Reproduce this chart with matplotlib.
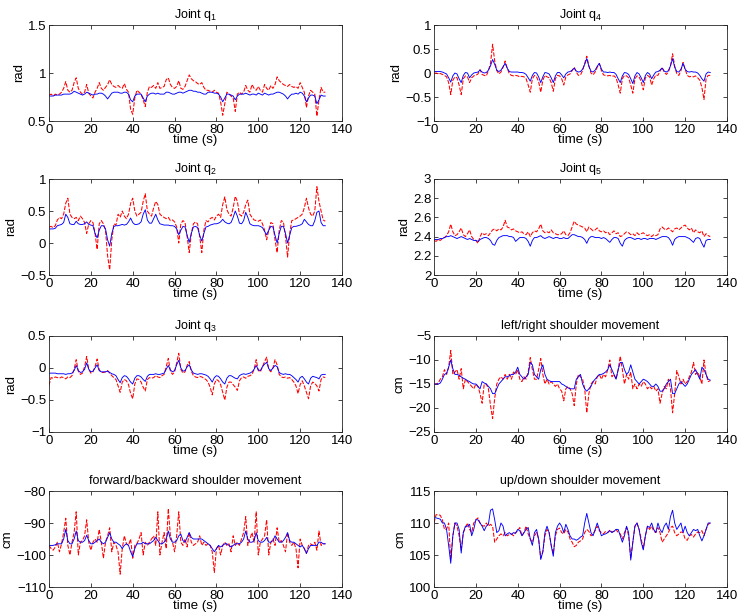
import numpy as np
import matplotlib.pyplot as plt

plt.rcParams['font.family'] = ['Liberation Sans', 'DejaVu Sans']
plt.rcParams['mathtext.fontset'] = 'custom'
plt.rcParams['mathtext.rm'] = 'Liberation Sans'
plt.rcParams['mathtext.it'] = 'Liberation Sans'

# time axis, one sample per second
t = np.arange(0, 133)

# ---- Joint q1 (rad)
q1_red = [0.77,0.78,0.76,0.78,0.77,0.78,0.80,0.84,0.91,0.82,
          0.80,0.82,0.90,0.95,0.84,0.80,0.78,0.80,0.88,0.79,
          0.76,0.74,0.80,0.84,0.90,0.84,0.82,0.85,0.88,0.93,
          0.88,0.86,0.85,0.87,0.85,0.84,0.89,0.83,0.80,0.62,
          0.57,0.74,0.82,0.80,0.78,0.72,0.65,0.80,0.86,0.85,
          0.87,0.84,0.90,0.84,0.85,0.86,0.93,0.95,0.88,0.85,
          0.84,0.86,0.92,0.84,0.83,0.86,0.92,0.98,0.94,0.92,
          0.91,0.89,0.88,0.90,0.85,0.82,0.82,0.81,0.80,0.82,
          0.80,0.79,0.70,0.56,0.68,0.80,0.78,0.76,0.74,0.60,
          0.78,0.80,0.78,0.80,0.87,0.82,0.80,0.88,0.84,0.82,
          0.86,0.82,0.80,0.88,0.84,0.82,0.87,0.84,0.88,0.96,
          0.92,0.90,0.88,0.87,0.86,0.88,0.86,0.85,0.86,0.84,
          0.90,0.85,0.80,0.64,0.76,0.82,0.80,0.78,0.55,0.72,
          0.85,0.80,0.80]
q1_blue = [0.76,0.76,0.76,0.77,0.77,0.77,0.77,0.78,0.78,0.78,
           0.78,0.79,0.81,0.80,0.79,0.78,0.77,0.78,0.80,0.79,
           0.78,0.77,0.78,0.78,0.79,0.79,0.78,0.76,0.73,0.76,
           0.79,0.80,0.80,0.80,0.79,0.79,0.80,0.80,0.78,0.72,
           0.70,0.76,0.78,0.78,0.78,0.74,0.70,0.76,0.78,0.79,
           0.79,0.78,0.79,0.78,0.78,0.78,0.80,0.80,0.79,0.78,
           0.78,0.79,0.80,0.80,0.79,0.80,0.81,0.82,0.82,0.81,
           0.81,0.80,0.80,0.79,0.78,0.78,0.80,0.80,0.80,0.79,
           0.79,0.78,0.75,0.70,0.74,0.78,0.78,0.77,0.76,0.72,
           0.76,0.78,0.78,0.78,0.79,0.78,0.77,0.78,0.78,0.77,
           0.79,0.78,0.77,0.79,0.78,0.77,0.78,0.78,0.79,0.80,
           0.80,0.79,0.78,0.76,0.73,0.76,0.78,0.78,0.79,0.78,
           0.80,0.79,0.76,0.70,0.74,0.77,0.77,0.76,0.68,0.72,
           0.77,0.76,0.76]

# ---- Joint q2 (rad)
q2_red = [0.25,0.26,0.24,0.27,0.36,0.40,0.38,0.45,0.62,0.70,
          0.45,0.40,0.38,0.40,0.35,0.42,0.38,0.32,0.15,0.30,
          0.35,0.32,0.15,-0.10,0.30,0.35,0.30,0.20,-0.20,-0.42,
          0.05,0.30,0.28,0.45,0.40,0.50,0.42,0.38,0.45,0.62,
          0.70,0.50,0.42,0.45,0.48,0.65,0.77,0.50,0.45,0.42,
          0.55,0.65,0.60,0.45,0.42,0.40,0.38,0.40,0.35,0.36,
          0.33,0.25,0.00,0.30,0.35,0.32,0.10,-0.15,0.15,0.30,
          0.33,0.30,0.10,-0.15,0.20,0.35,0.33,0.38,0.40,0.36,
          0.42,0.45,0.40,0.60,0.72,0.52,0.45,0.42,0.55,0.73,
          0.65,0.45,0.42,0.48,0.60,0.67,0.45,0.40,0.36,0.35,
          0.34,0.36,0.30,0.20,0.05,0.20,0.32,0.30,0.05,-0.15,
          0.20,0.35,0.33,0.10,-0.22,0.15,0.35,0.36,0.38,0.40,
          0.42,0.45,0.55,0.70,0.55,0.45,0.42,0.50,0.88,0.65,
          0.50,0.36,0.34]
q2_blue = [0.22,0.22,0.22,0.23,0.27,0.28,0.29,0.32,0.45,0.40,
           0.30,0.29,0.29,0.34,0.30,0.29,0.29,0.30,0.33,0.29,
           0.28,0.27,0.15,0.08,0.20,0.27,0.27,0.22,0.05,-0.05,
           0.15,0.26,0.27,0.27,0.28,0.29,0.28,0.29,0.33,0.39,
           0.32,0.29,0.29,0.30,0.33,0.45,0.52,0.36,0.31,0.31,
           0.38,0.45,0.36,0.30,0.29,0.28,0.28,0.28,0.27,0.27,
           0.26,0.22,0.13,0.20,0.26,0.25,0.12,0.01,0.15,0.25,
           0.26,0.24,0.12,0.03,0.15,0.25,0.26,0.28,0.29,0.30,
           0.30,0.31,0.33,0.37,0.33,0.31,0.30,0.32,0.40,0.50,
           0.42,0.31,0.30,0.35,0.48,0.40,0.30,0.28,0.27,0.27,
           0.27,0.26,0.24,0.18,0.13,0.20,0.26,0.25,0.12,0.00,
           0.15,0.26,0.26,0.15,0.00,0.12,0.24,0.26,0.26,0.27,
           0.28,0.30,0.37,0.33,0.29,0.27,0.27,0.35,0.48,0.50,
           0.32,0.27,0.27]

# ---- Joint q3 (rad)
q3_red = [-0.27,-0.15,-0.16,-0.14,-0.15,-0.16,-0.14,-0.15,-0.17,-0.14,
          -0.15,-0.12,-0.02,0.13,-0.05,-0.10,-0.08,0.02,0.18,-0.02,
          -0.08,-0.06,0.02,0.14,-0.03,-0.07,-0.07,-0.06,-0.04,-0.08,
          -0.12,-0.15,-0.18,-0.28,-0.38,-0.22,-0.18,-0.20,-0.26,-0.40,
          -0.48,-0.25,-0.17,-0.18,-0.22,-0.30,-0.36,-0.18,-0.15,-0.16,
          -0.15,-0.12,-0.14,-0.15,-0.12,-0.10,0.02,0.15,-0.05,-0.10,
          -0.06,0.08,0.23,-0.02,-0.08,-0.06,0.04,0.10,-0.05,-0.12,
          -0.14,-0.15,-0.13,-0.14,-0.16,-0.18,-0.22,-0.30,-0.42,-0.25,
          -0.18,-0.20,-0.26,-0.38,-0.50,-0.30,-0.22,-0.22,-0.26,-0.30,
          -0.35,-0.20,-0.15,-0.14,-0.16,-0.13,-0.12,-0.10,-0.02,0.13,
          -0.04,-0.06,0.02,0.10,0.17,-0.02,-0.06,0.00,0.13,0.05,
          -0.10,-0.14,-0.15,-0.14,-0.16,-0.15,-0.18,-0.22,-0.28,-0.40,
          -0.26,-0.20,-0.28,-0.38,-0.48,-0.28,-0.22,-0.24,-0.28,-0.36,
          -0.18,-0.14,-0.15]
q3_blue = [-0.08,-0.08,-0.08,-0.08,-0.09,-0.09,-0.09,-0.09,-0.10,-0.09,
           -0.09,-0.08,-0.04,0.04,-0.04,-0.07,-0.06,-0.02,0.08,-0.02,
           -0.06,-0.05,0.00,0.05,-0.04,-0.06,-0.06,-0.06,-0.05,-0.07,
           -0.09,-0.10,-0.12,-0.18,-0.23,-0.15,-0.12,-0.13,-0.17,-0.22,
           -0.25,-0.16,-0.12,-0.12,-0.14,-0.18,-0.21,-0.13,-0.10,-0.10,
           -0.10,-0.09,-0.10,-0.10,-0.09,-0.08,-0.02,0.04,-0.03,-0.06,
           -0.04,0.05,0.12,0.00,-0.05,-0.04,0.02,0.05,-0.03,-0.08,
           -0.09,-0.10,-0.09,-0.09,-0.10,-0.11,-0.13,-0.17,-0.22,-0.15,
           -0.12,-0.13,-0.17,-0.22,-0.25,-0.16,-0.12,-0.12,-0.14,-0.16,
           -0.17,-0.12,-0.10,-0.09,-0.10,-0.09,-0.08,-0.06,-0.02,0.04,
           -0.03,-0.04,0.02,0.06,0.09,-0.01,-0.04,0.00,0.04,0.02,
           -0.07,-0.09,-0.10,-0.09,-0.10,-0.10,-0.12,-0.15,-0.18,-0.22,
           -0.15,-0.13,-0.17,-0.22,-0.25,-0.16,-0.13,-0.14,-0.15,-0.17,
           -0.11,-0.10,-0.10]

# ---- forward/backward shoulder movement (cm)
fb_red = [-97,-98,-98.5,-97.5,-96,-99,-96.5,-93,-88.5,-97,
          -100,-96,-93,-86.5,-100,-96,-95.5,-94,-89,-96,
          -98.5,-96,-95,-96,-92,-96,-101,-96,-94,-91.5,
          -99,-96,-97,-99,-106,-98,-94,-96.5,-97,-95,
          -101,-97,-96.5,-95,-93,-100,-96,-97,-96,-95,
          -94,-97,-86.5,-100,-96,-93,-98,-85.5,-94,-96,
          -99,-94,-86.5,-96,-97,-95,-97.5,-93,-96,-97,
          -96.5,-96,-94,-97,-96,-97,-96.5,-97,-99,-105.5,
          -98,-97,-100,-97,-96,-97,-96.5,-99,-94,-97,
          -96,-97,-95,-93,-88,-97,-95,-93,-96,-86.5,
          -100,-96,-95,-94,-89,-100,-96,-95,-97,-91.5,
          -96,-95.5,-97,-99,-93,-96,-97,-96,-98,-104,
          -95,-97,-98,-99.5,-97,-96.5,-97,-96,-98.5,-92.5,
          -97,-96.5,-96.5]
fb_blue = [-97,-97,-97,-96.8,-96.5,-96.5,-96.5,-95,-92,-95.5,
           -96.5,-96.5,-95,-92.5,-95.5,-96,-96,-95.5,-93.8,-95.5,
           -96.5,-96.5,-96,-95.5,-95,-96,-96.5,-96,-94.5,-93,
           -95,-96,-96,-96.5,-97,-98,-97,-96.5,-97,-99,
           -100.5,-98,-96.5,-96.5,-96.5,-96,-96.5,-96.5,-96.5,-96,
           -95.5,-94.5,-95.5,-96.5,-96.5,-96,-95,-92.5,-95,-96,
           -96,-95.5,-94,-93.5,-95.5,-96,-94.5,-93,-94.5,-95,
           -95,-95,-95,-95,-95.5,-96,-96.5,-97,-98,-99,
           -98,-97,-97.5,-97,-96.5,-96.5,-97,-97.5,-97,-96.5,
           -96.5,-96.5,-96,-95,-92.5,-95,-96,-96,-95.5,-93,
           -95.5,-96,-96,-95.5,-94.5,-96,-96,-95.5,-94,-95,
           -96,-96,-95.5,-94.5,-93,-95.5,-96,-96,-96.5,-97,
           -97.5,-97,-98,-99.5,-98,-97,-97,-97,-97,-96,
           -96,-96.5,-96.5]

# ---- Joint q4 (rad)
q4_red = [-0.01,0.00,-0.02,-0.01,-0.03,-0.05,-0.08,-0.20,-0.45,-0.15,
          -0.08,-0.10,-0.25,-0.45,-0.12,-0.06,-0.08,-0.20,-0.10,-0.06,
          -0.05,-0.02,0.07,-0.03,-0.05,-0.06,0.05,0.20,0.60,0.25,
          0.05,-0.02,0.02,0.12,0.25,0.10,-0.02,-0.05,-0.06,-0.05,
          -0.06,-0.08,-0.07,-0.08,-0.12,-0.25,-0.40,-0.12,-0.05,-0.08,
          -0.18,-0.40,-0.15,-0.05,-0.08,-0.10,-0.20,-0.38,-0.12,-0.05,
          -0.06,-0.12,-0.25,-0.08,-0.04,-0.02,0.05,0.12,0.02,-0.05,
          -0.04,0.05,0.20,0.35,0.15,0.00,-0.04,0.02,0.12,0.20,
          0.05,-0.04,-0.05,-0.06,-0.05,-0.07,-0.06,-0.10,-0.25,-0.42,
          -0.12,-0.05,-0.06,-0.10,-0.25,-0.42,-0.12,-0.06,-0.08,-0.18,
          -0.35,-0.10,-0.05,-0.08,-0.25,-0.12,-0.04,-0.05,0.04,0.12,
          0.02,-0.03,0.02,0.15,0.40,0.15,-0.02,-0.05,0.05,0.22,
          0.08,-0.05,-0.08,-0.07,-0.08,-0.06,-0.10,-0.15,-0.30,-0.55,
          -0.12,-0.05,-0.05]
q4_blue = [0.03,0.03,0.03,0.03,0.02,0.00,-0.02,-0.10,-0.19,-0.06,
           0.00,-0.02,-0.12,-0.20,-0.05,0.01,0.00,-0.10,-0.04,0.00,
           0.01,0.02,0.06,0.02,0.00,0.01,0.06,0.15,0.28,0.18,
           0.06,0.03,0.06,0.13,0.20,0.10,0.03,0.02,0.02,0.02,
           0.02,0.01,0.01,0.00,-0.03,-0.10,-0.17,-0.05,0.01,0.00,
           -0.08,-0.20,-0.08,0.01,0.00,-0.02,-0.10,-0.20,-0.06,0.01,
           0.01,-0.04,-0.10,-0.02,0.02,0.03,0.06,0.10,0.04,0.02,
           0.03,0.08,0.18,0.30,0.14,0.04,0.02,0.06,0.14,0.20,
           0.08,0.02,0.02,0.01,0.02,0.01,0.01,-0.03,-0.12,-0.20,
           -0.06,0.01,0.00,-0.03,-0.12,-0.22,-0.06,0.01,-0.02,-0.10,
           -0.20,-0.05,0.01,-0.02,-0.12,-0.04,0.02,0.03,0.06,0.10,
           0.04,0.02,0.05,0.15,0.30,0.12,0.03,0.02,0.08,0.20,
           0.08,0.03,0.02,0.03,0.02,0.02,0.00,-0.05,-0.12,-0.17,
           -0.02,0.02,0.01]

# ---- Joint q5 (rad)
q5_red = [2.36,2.35,2.37,2.36,2.38,2.39,2.41,2.45,2.53,2.45,
          2.41,2.42,2.45,2.49,2.42,2.40,2.43,2.47,2.40,2.37,
          2.36,2.33,2.40,2.44,2.42,2.43,2.41,2.44,2.47,2.48,
          2.46,2.48,2.47,2.50,2.57,2.50,2.49,2.47,2.48,2.46,
          2.45,2.44,2.45,2.43,2.42,2.45,2.40,2.44,2.46,2.45,
          2.48,2.53,2.46,2.44,2.45,2.44,2.47,2.44,2.43,2.42,
          2.42,2.43,2.46,2.42,2.41,2.44,2.50,2.56,2.53,2.52,
          2.51,2.50,2.49,2.45,2.50,2.48,2.46,2.47,2.49,2.46,
          2.45,2.46,2.44,2.45,2.42,2.44,2.46,2.43,2.44,2.40,
          2.41,2.43,2.45,2.44,2.42,2.43,2.41,2.44,2.42,2.43,
          2.44,2.42,2.41,2.42,2.40,2.42,2.41,2.42,2.48,2.50,
          2.48,2.47,2.49,2.47,2.45,2.48,2.49,2.47,2.49,2.51,
          2.52,2.49,2.47,2.49,2.44,2.47,2.45,2.44,2.46,2.40,
          2.43,2.41,2.40]
q5_blue = [2.37,2.37,2.37,2.38,2.38,2.39,2.40,2.40,2.41,2.40,
           2.39,2.38,2.39,2.40,2.39,2.38,2.37,2.38,2.37,2.36,
           2.36,2.35,2.37,2.38,2.39,2.39,2.38,2.36,2.32,2.31,
           2.36,2.39,2.40,2.41,2.41,2.41,2.40,2.40,2.39,2.35,
           2.37,2.39,2.39,2.39,2.38,2.35,2.30,2.36,2.39,2.39,
           2.40,2.41,2.39,2.38,2.39,2.40,2.39,2.38,2.39,2.39,
           2.38,2.38,2.39,2.38,2.38,2.40,2.42,2.42,2.41,2.40,
           2.40,2.39,2.37,2.33,2.38,2.40,2.40,2.39,2.39,2.39,
           2.38,2.39,2.38,2.36,2.34,2.37,2.39,2.39,2.38,2.33,
           2.30,2.36,2.38,2.39,2.39,2.38,2.37,2.38,2.38,2.37,
           2.38,2.38,2.37,2.38,2.38,2.38,2.37,2.38,2.39,2.40,
           2.40,2.40,2.39,2.36,2.31,2.37,2.39,2.40,2.40,2.40,
           2.40,2.39,2.38,2.36,2.34,2.38,2.39,2.38,2.33,2.29,
           2.36,2.37,2.37]

# ---- left/right shoulder movement (cm)
lr_red = [-15,-15,-14.8,-14,-13.5,-12,-13,-11.5,-8,-13,
          -12.5,-12,-14,-11.8,-16,-14,-14.5,-15,-15.5,-16,
          -15,-15.5,-17,-19,-15,-15,-16,-19.5,-22.2,-18,
          -15,-14,-13.5,-14,-13,-14,-13,-14,-12.5,-13,
          -12,-14,-14.5,-13.5,-14,-12.5,-9.5,-12,-14,-14,
          -12,-9.7,-13,-15,-14,-15,-14.5,-15,-15.5,-15,
          -16,-16.5,-18.5,-16,-15.5,-16,-17,-19.5,-15,-13,
          -13.5,-14,-16,-21,-17,-15,-14.5,-15,-13.5,-13,
          -14,-13,-13.5,-12,-10,-13.5,-13,-14,-12,-9.2,
          -12,-15,-13,-14,-12.5,-16,-15,-16,-15,-15.5,
          -14.5,-15,-16,-15.5,-16,-15.5,-16.5,-16,-19,-17,
          -15.5,-16,-14,-16,-21,-17,-12.2,-13.5,-15,-14,
          -15,-14.5,-13.5,-12.5,-10.5,-13,-12.5,-13.5,-15,-10,
          -13,-14.5,-14.3]
lr_blue = [-15,-15,-15,-14.8,-14,-13,-12.8,-11.5,-10,-11.8,
           -13,-13,-13.2,-13.5,-13.8,-14,-14.3,-14.5,-14.8,-15,
           -15,-15.5,-16,-14.5,-14.8,-15,-15.5,-16,-17,-17,
           -16,-15,-14.5,-14,-13.5,-13.5,-13.3,-13,-13,-12.5,
           -11.5,-13,-13.5,-14,-13.5,-13,-10.5,-11,-13,-13.5,
           -14,-12,-11,-13,-14,-14.3,-14.5,-14.5,-14.5,-14.5,
           -14.5,-15,-15.2,-15.5,-15.8,-16,-16,-16,-14,-13.5,
           -13,-15,-16,-16.5,-16,-15.5,-14.5,-14,-13.5,-13,
           -13,-12.8,-12.5,-12,-11,-12,-13,-14,-12,-10.5,
           -10.5,-12,-13,-12.5,-11,-12.5,-14,-14.5,-15,-14.5,
           -14,-14.2,-14.5,-15,-15.5,-15.5,-15,-15.5,-16.5,-16.5,
           -16,-15,-14.5,-14,-17,-17,-16,-15,-14.5,-15,
           -15.5,-15,-14,-13,-12.5,-12,-13,-14,-11.5,-12,
           -13,-14,-14.2]

# ---- up/down shoulder movement (cm)
ud_red = [110,111.3,111.3,111.2,110.5,109,109,110,104.3,108,
          110,109.5,108,105.8,108.5,109.2,110,109,108.5,110,
          110.5,110.8,110,109.6,109.5,110,109.5,109.8,109.5,107,
          107.5,108,108.3,108,108.5,108,108.2,108.3,108,108.5,
          108.8,109.3,108,108.5,109.5,108.3,107.5,107,108,108.5,
          107.5,104.5,105.5,108,109,108.5,106.5,105.2,108,109,
          109.2,108.5,108.3,109,108.6,107.5,107,106.3,106.5,107,
          107.2,107.5,108.5,109,108.7,108,108.3,108.8,109.5,108.8,
          108.5,108.3,108.7,108.5,108.9,108.6,108.7,109,108.5,108.3,
          107.5,108.5,109.3,108,104.5,107,109.5,110,109,107.5,
          106,108,109.5,109,109.5,108.7,108.5,109.3,108.5,107,
          107.5,108,108.5,109.3,109.5,108.5,108,108.3,108.6,108.5,
          107.5,107.3,108,108.2,107.8,108.3,108.6,108.5,108.8,108,
          109,109.8,110]
ud_blue = [110.8,110.8,110.7,110.6,110,110,109,106.5,103.7,108,
           110,110,109,105.3,108.5,109.5,109.5,109.8,108,109,
           110.5,110.5,110,109.5,108.8,109.5,109.8,112,112.2,110.5,
           108.5,108.8,110,109.5,108,108.3,108.5,108.2,108.5,108.4,
           109,108.8,108,108.5,109,109.3,107.5,106.5,108.5,109,
           107.5,104.3,105.5,108.5,109.5,108.5,106.5,104.8,108.5,109.5,
           110,109.5,108.5,109.8,109,108,107.5,107.5,107.3,107.5,
           107.8,108,110,111.5,110,108.5,108,109,110,109,
           108,108.2,108.3,108.5,108.8,108.5,108.7,109,109,108,
           107,108,109.5,108.5,104.2,107,109.5,110,109,107,
           105.8,108,109.5,109.3,110,109,108.5,110,109,108.5,
           109.5,110,109,111,112,110,109,109.5,110,108.5,
           109.5,108.5,108,108.5,109,108.8,109,108,107.2,108,
           109,110,110]

panels = [
    # (row, col, title, ylabel, red, blue, ylim, yticks, ticklabels)
    (0, 0, r'Joint q$_\mathregular{1}$', 'rad', q1_red, q1_blue, (0.5, 1.5), [0.5, 1, 1.5], ['0.5', '1', '1.5']),
    (1, 0, r'Joint q$_\mathregular{2}$', 'rad', q2_red, q2_blue, (-0.5, 1), [-0.5, 0, 0.5, 1], ['\u22120.5', '0', '0.5', '1']),
    (2, 0, r'Joint q$_\mathregular{3}$', 'rad', q3_red, q3_blue, (-1, 0.5), [-1, -0.5, 0, 0.5], ['\u22121', '\u22120.5', '0', '0.5']),
    (3, 0, 'forward/backward shoulder movement', 'cm', fb_red, fb_blue, (-110, -80), [-110, -100, -90, -80], ['\u2212110', '\u2212100', '\u221290', '\u221280']),
    (0, 1, r'Joint q$_\mathregular{4}$', 'rad', q4_red, q4_blue, (-1, 1), [-1, -0.5, 0, 0.5, 1], ['\u22121', '\u22120.5', '0', '0.5', '1']),
    (1, 1, r'Joint q$_\mathregular{5}$', 'rad', q5_red, q5_blue, (2, 3), [2, 2.2, 2.4, 2.6, 2.8, 3], ['2', '2.2', '2.4', '2.6', '2.8', '3']),
    (2, 1, 'left/right shoulder movement', 'cm', lr_red, lr_blue, (-25, -5), [-25, -20, -15, -10, -5], ['\u221225', '\u221220', '\u221215', '\u221210', '\u22125']),
    (3, 1, 'up/down shoulder movement', 'cm', ud_red, ud_blue, (100, 115), [100, 105, 110, 115], ['100', '105', '110', '115']),
]

fig = plt.figure(figsize=(7.44, 6.16), dpi=100)
W, H = 744.0, 616.0
lefts = [49, 434]
tops = [25, 179, 336, 491]
aw, ah = 293, 96

for row, col, title, ylab, red, blue, ylim, yt, ytl in panels:
    ax = fig.add_axes([lefts[col] / W, 1 - (tops[row] + ah) / H, aw / W, ah / H])
    ax.plot(t, red, color='red', linestyle='--', dashes=(4, 1.5), linewidth=0.75)
    ax.plot(t, blue, color='blue', linewidth=0.65)
    ax.set_xlim(0, 140)
    ax.set_ylim(*ylim)
    ax.set_xticks([0, 20, 40, 60, 80, 100, 120, 140])
    ax.set_yticks(yt)
    ax.set_yticklabels(ytl)
    ax.tick_params(direction='in', top=True, right=True, length=3, width=0.6,
                   labelsize=9.5, pad=2, colors='#262626', labelcolor='black')
    for s in ax.spines.values():
        s.set_linewidth(0.6)
        s.set_color('#262626')
    ax.set_title(title, fontsize=9, pad=5)
    ax.set_xlabel('time (s)', fontsize=9.5, labelpad=-1)
    ax.set_ylabel(ylab, fontsize=9.5, labelpad=2)

fig.savefig('out.png', dpi=100)
